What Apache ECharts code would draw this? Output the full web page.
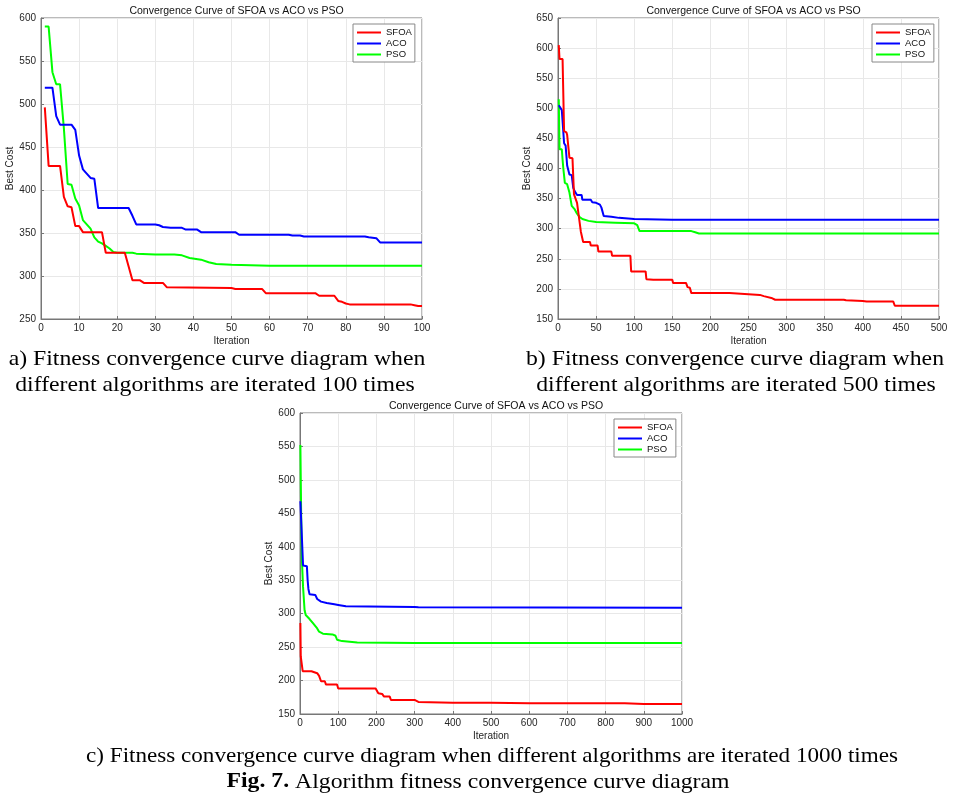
<!DOCTYPE html>
<html lang="en">
  <head>
    <meta charset="UTF-8" />
    <title>Convergence curves</title>
    <style>
      html,
      body {
        margin: 0;
        padding: 0;
        background: #fff;
      }
      #main {
        width: 956px;
        height: 797px;
      }
    </style>
  </head>
  <body>
    <div id="main"></div>
    <script src="https://cdn.jsdelivr.net/npm/echarts@6/dist/echarts.min.js"></script>
    <script>
      // [iteration, best cost]
      const sfoa100 = [[1,496],[2,428],[5,428],[6,392],[7,381],[8,380],[9,358],[10,358],[11,351],[16,351],[17,327],[22,327],[23,311],[24,295],[26,295],[27,292],[32,292],[33,287],[50,286],[51,285],[58,285],[59,280],[72,280],[73,277],[77,277],[78,271],[79,270],[80,268],[81,267],[97,267],[98,266],[99,265],[100,265]];
      const aco100 = [[1,519],[3,519],[4,486],[5,476],[8,476],[9,470],[10,440],[11,424],[12,419],[13,414],[14,413],[15,379],[23,379],[24,370],[25,360],[30,360],[31,359],[32,357],[34,356],[37,356],[38,354],[41,354],[42,351],[51,351],[52,348],[65,348],[66,347],[68,347],[69,346],[85,346],[86,345],[88,344],[89,339],[100,339]];
      const pso100 = [[1,590],[2,590],[3,537],[4,523],[5,523],[6,472],[7,407],[8,406],[9,390],[10,382],[11,365],[12,360],[13,355],[14,345],[15,340],[16,338],[17,335],[18,332],[19,328],[20,327],[24,327],[25,326],[30,325],[35,325],[37,324],[39,321],[42,319],[44,316],[46,314],[50,313],[55,312.5],[60,312],[100,312]];

      const sfoa500 = [[1,605],[2,582],[6,582],[8,462],[11,460],[12,456],[14,455],[15,418],[19,417],[20,417],[21,357],[25,343],[27,340],[30,295],[32,292],[33,278],[42,278],[43,272],[52,272],[53,262],[70,262],[71,255],[95,255],[96,229],[115,229],[116,216],[125,215],[150,215],[151,210],[168,210],[170,203],[173,202],[175,193],[225,193],[226,190],[265,190],[270,188],[280,185],[285,182],[375,182],[378,181],[400,180],[405,179],[440,179],[442,172],[500,172]];
      const aco500 = [[1,505],[3,507],[5,497],[8,442],[10,438],[12,405],[14,404],[15,390],[18,389],[20,368],[22,362],[25,356],[31,356],[32,348],[43,348],[45,344],[50,343],[55,340],[57,335],[60,321],[70,320],[80,318],[100,316],[150,315],[500,315]];
      const pso500 = [[1,515],[2,432],[5,432],[6,415],[7,400],[9,376],[12,374],[15,360],[18,338],[22,332],[25,325],[28,320],[32,316],[40,313],[50,311],[75,310],[100,309],[104,306],[107,296],[175,296],[180,294],[185,292],[500,292]];

      const sfoa1000 = [[1,286],[2,236],[5,236],[7,214],[30,214],[33,212],[45,211],[50,207],[55,199],[65,199],[68,194],[97,194],[100,188],[198,188],[205,181],[215,180],[220,176],[235,176],[238,171],[300,171],[310,168],[400,167],[500,167],[600,166],[850,166],[900,165],[1000,165]];
      const aco1000 = [[1,468],[5,468],[8,372],[18,371],[20,350],[22,337],[25,329],[40,328],[45,322],[50,322],[55,318],[70,316],[90,314],[100,313],[120,311],[300,310],[310,309.5],[1000,309]];
      const pso1000 = [[1,552],[3,450],[5,380],[8,340],[12,305],[15,298],[25,292],[35,285],[45,278],[50,273],[55,271],[60,270],[85,269],[93,267],[97,261],[110,259],[150,257],[300,256],[1000,256]];

      const algoNames = ["SFOA", "ACO", "PSO"];
      const algoColors = ["#ff0000", "#0000ff", "#00ff00"];
      const panelTitle = "Convergence Curve of SFOA vs ACO vs PSO";

      const font = "'Liberation Sans', Arial, sans-serif";
      const serif = "'Liberation Serif', 'Times New Roman', serif";

      const panels = [
        { grid: { left: 41, top: 18, width: 381, height: 301 }, x: [0, 100, 10], y: [250, 600, 50], legend: [353, 24], series: [sfoa100, aco100, pso100] },
        { grid: { left: 558, top: 18, width: 381, height: 301 }, x: [0, 500, 50], y: [150, 650, 50], legend: [872, 24], series: [sfoa500, aco500, pso500] },
        { grid: { left: 300, top: 413, width: 382, height: 301 }, x: [0, 1000, 100], y: [150, 600, 50], legend: [614, 419], series: [sfoa1000, aco1000, pso1000] },
      ];

      const axisCommon = {
        axisLine: { show: true, lineStyle: { color: "#777" } },
        axisTick: { show: true, inside: true, length: 3, lineStyle: { color: "#777" } },
        axisLabel: { color: "#262626", fontSize: 10, fontFamily: font, formatter: (v) => String(v) },
        splitLine: { show: true, lineStyle: { color: "#e8e8e8" } },
        nameTextStyle: { color: "#262626", fontSize: 10, fontFamily: font },
      };

      // text, centre x, centre y, horizontal stretch
      const captions = [
        ["a) Fitness convergence curve diagram when", 217, 359, 1.13],
        ["different algorithms are iterated 100 times", 215, 385, 1.13],
        ["b) Fitness convergence curve diagram when", 735, 359, 1.13],
        ["different algorithms are iterated 500 times", 736, 385, 1.13],
        ["c) Fitness convergence curve diagram when different algorithms are iterated 1000 times", 492, 756, 1.1],
      ];

      const option = {
        animation: false,
        backgroundColor: "#fff",
        title: panels.map((p) => ({
          text: panelTitle,
          left: p.grid.left + p.grid.width / 2,
          textAlign: "center",
          top: p.grid.top - 17,
          textStyle: { fontSize: 10.5, fontWeight: "normal", color: "#111", fontFamily: font },
        })),
        grid: panels.map((p) => ({ ...p.grid, show: true, borderColor: "#777", borderWidth: 1, backgroundColor: "transparent" })),
        legend: panels.map((p) => ({
          data: algoNames,
          orient: "vertical",
          left: p.legend[0],
          top: p.legend[1],
          padding: [3, 3, 2, 4],
          itemGap: 0,
          itemWidth: 24,
          itemHeight: 2,
          icon: "rect",
          borderColor: "#888",
          borderWidth: 1,
          backgroundColor: "#fff",
          textStyle: { fontSize: 9.5, color: "#111", fontFamily: font, lineHeight: 11 },
        })),
        xAxis: panels.map((p, i) => ({
          ...axisCommon,
          axisLabel: { ...axisCommon.axisLabel, margin: 4 },
          type: "value",
          gridIndex: i,
          min: p.x[0],
          max: p.x[1],
          interval: p.x[2],
          name: "Iteration",
          nameLocation: "middle",
          nameGap: 17,
        })),
        yAxis: panels.map((p, i) => ({
          ...axisCommon,
          axisLabel: { ...axisCommon.axisLabel, margin: 5 },
          type: "value",
          gridIndex: i,
          min: p.y[0],
          max: p.y[1],
          interval: p.y[2],
          name: "Best Cost",
          nameLocation: "middle",
          nameGap: 25,
        })),
        series: panels.flatMap((p, i) =>
          p.series.map((data, k) => ({
            name: algoNames[k],
            type: "line",
            xAxisIndex: i,
            yAxisIndex: i,
            data: data,
            symbol: "none",
            color: algoColors[k],
            lineStyle: { width: 2, color: algoColors[k] },
            z: 3 - k,
          }))
        ),
        graphic: captions
          .map(([t, x, y, sx]) => ({
            type: "text",
            x: x,
            y: y,
            scaleX: sx,
            style: { text: t, fontSize: 21, fontFamily: serif, fill: "#000", textAlign: "center", textVerticalAlign: "middle" },
          }))
          .concat([
            {
              type: "text",
              x: 478,
              y: 782,
              scaleX: 1.13,
              style: {
                text: "{b|Fig. 7.} Algorithm fitness convergence curve diagram",
                rich: { b: { fontWeight: "bold", fontSize: 21, fontFamily: serif } },
                fontSize: 21,
                fontFamily: serif,
                fill: "#000",
                textAlign: "center",
                textVerticalAlign: "middle",
              },
            },
          ]),
      };

      const chart = echarts.init(document.getElementById("main"));
      chart.setOption(option);
    </script>
  </body>
</html>
